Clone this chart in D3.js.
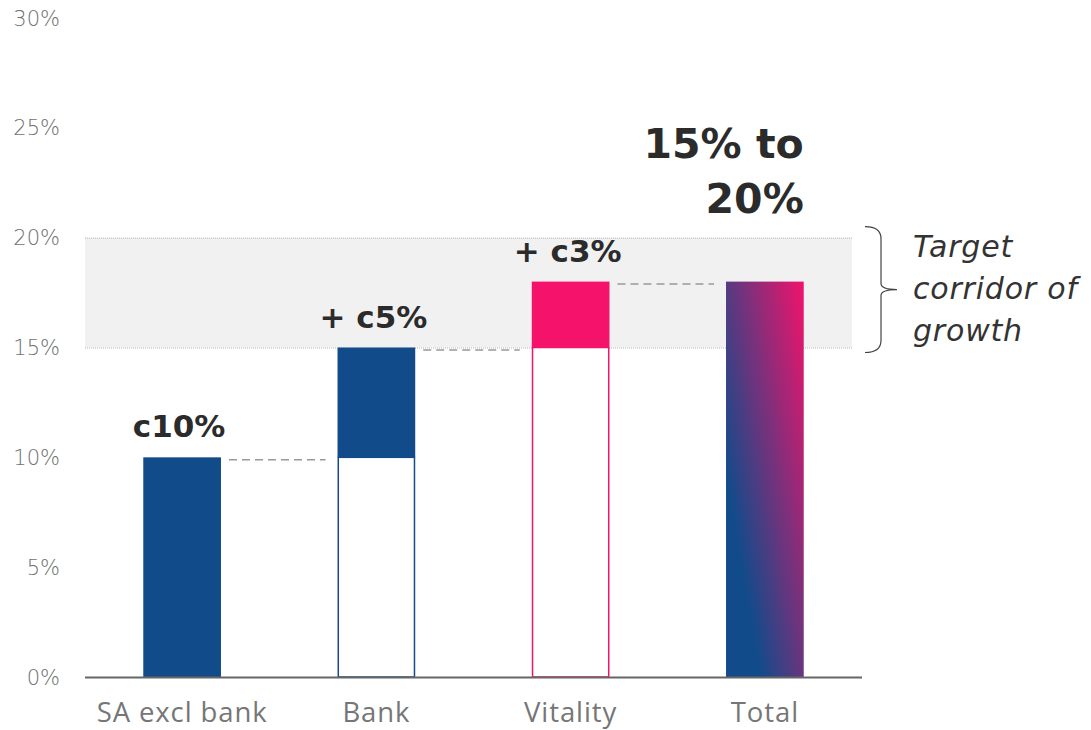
<!DOCTYPE html>
<html>
<head>
<meta charset="utf-8">
<script src="https://cdn.jsdelivr.net/npm/d3@7"></script>
<style>
  html, body { margin: 0; padding: 0; background: #ffffff; }
  svg { display: block; }
</style>
</head>
<body>
<svg id="chart" width="1091" height="730"></svg>
<script>
// Growth build-up by business line
const categories = ["SA excl bank", "Bank", "Vitality", "Total"];
const barStarts  = [0, 10, 15, 0];     // where the filled contribution begins
const barEnds    = [10, 15, 18, 18];   // where the filled contribution ends
const barLabels  = ["c10%", "+ c5%", "+ c3%", ""];
const totalLabelLines = ["15% to", "20%"];
const corridor   = [15, 20];
const corridorLines = ["Target", "corridor of", "growth"];
const yTicks     = [0, 5, 10, 15, 20, 25, 30];

const BLUE = "#124b8a";
const PINK = "#f5126b";
const barColors = [BLUE, BLUE, PINK, null];

const svg = d3.select("#chart");
const plotLeft = 85, plotRight = 862, plotTop = 18, plotBottom = 677;

const x = d3.scaleBand().domain(categories).range([plotLeft, plotRight])
  .paddingInner(0.6).paddingOuter(0.3);
const y = d3.scaleLinear().domain([0, 30]).range([plotBottom, plotTop]);

// Gradient for the total bar: blue at lower-left to pink at upper-right
const tx = x("Total"), bw = x.bandwidth();
const gx0 = tx + bw * 0.45, gy0 = y(0);
const dir = [0.985, -0.172], len = 112;
const defs = svg.append("defs");
const grad = defs.append("linearGradient").attr("id", "totalGrad")
  .attr("gradientUnits", "userSpaceOnUse")
  .attr("x1", gx0).attr("y1", gy0)
  .attr("x2", gx0 + dir[0] * len).attr("y2", gy0 + dir[1] * len);
grad.append("stop").attr("offset", 0).attr("stop-color", BLUE);
grad.append("stop").attr("offset", 1).attr("stop-color", PINK);

// Target corridor band
svg.append("rect")
  .attr("x", plotLeft).attr("width", 852 - plotLeft)
  .attr("y", y(corridor[1])).attr("height", y(corridor[0]) - y(corridor[1]))
  .attr("fill", "#f1f1f1");
svg.selectAll("line.corr").data(corridor).join("line")
  .attr("class", "corr")
  .attr("x1", plotLeft).attr("x2", 852)
  .attr("y1", d => y(d) + 0.5).attr("y2", d => y(d) + 0.5)
  .attr("stroke", "#b5b5b5").attr("stroke-width", 1)
  .attr("stroke-dasharray", "1,1");

// Y tick labels
svg.selectAll("text.ytick").data(yTicks).join("text")
  .attr("class", "ytick")
  .attr("x", 60).attr("y", d => y(d))
  .attr("dy", "0.36em")
  .attr("text-anchor", "end")
  .attr("font-family", "'DejaVu Sans', sans-serif")
  .attr("font-weight", 200)
  .attr("font-size", 21)
  .attr("fill", "#707070")
  .text(d => d + "%");

// Hollow bases for the stacked contributions
svg.selectAll("rect.base").data(categories.map((c, i) => ({c, i})).filter(d => barStarts[d.i] > 0 && barColors[d.i]))
  .join("rect").attr("class", "base")
  .attr("x", d => x(d.c) + 0.75).attr("width", bw - 1.5)
  .attr("y", d => y(barStarts[d.i])).attr("height", d => y(0) - y(barStarts[d.i]))
  .attr("fill", "#ffffff")
  .attr("stroke", d => barColors[d.i]).attr("stroke-width", 1.5);

// Filled contributions
svg.selectAll("rect.bar").data(categories).join("rect")
  .attr("class", "bar")
  .attr("x", d => x(d)).attr("width", bw)
  .attr("y", (d, i) => y(barEnds[i]))
  .attr("height", (d, i) => y(barStarts[i]) - y(barEnds[i]))
  .attr("fill", (d, i) => barColors[i] || "url(#totalGrad)");

// Dashed connectors between consecutive bars
svg.selectAll("line.conn").data(categories.slice(0, -1)).join("line")
  .attr("class", "conn")
  .attr("x1", d => x(d) + bw + 8)
  .attr("x2", (d, i) => x(categories[i + 1]) - 12)
  .attr("y1", (d, i) => y(barEnds[i]) + 2.5)
  .attr("y2", (d, i) => y(barEnds[i]) + 2.5)
  .attr("stroke", "#999").attr("stroke-width", 1.5)
  .attr("stroke-dasharray", "8,5");

// Bar value labels
svg.selectAll("text.blabel").data(categories).join("text")
  .attr("class", "blabel")
  .attr("x", d => x(d) + bw / 2 - 3)
  .attr("y", (d, i) => y(barEnds[i]) - 20)
  .attr("text-anchor", "middle")
  .attr("font-family", "'DejaVu Sans', sans-serif")
  .attr("font-weight", 700)
  .attr("font-size", 31)
  .attr("fill", "#2b2b2b")
  .text((d, i) => barLabels[i]);

// Total label
svg.append("text")
  .attr("x", tx + bw).attr("y", y(barEnds[3]) - 124)
  .attr("text-anchor", "end")
  .attr("font-family", "'DejaVu Sans', sans-serif")
  .attr("font-weight", 700)
  .attr("font-size", 41)
  .attr("fill", "#2b2b2b")
  .selectAll("tspan").data(totalLabelLines).join("tspan")
  .attr("x", tx + bw)
  .attr("dy", (d, i) => i === 0 ? 0 : 55)
  .text(d => d);

// X axis line
svg.append("line")
  .attr("x1", plotLeft).attr("x2", plotRight)
  .attr("y1", y(0) + 0.5).attr("y2", y(0) + 0.5)
  .attr("stroke", "#666").attr("stroke-width", 2);

// Category labels
svg.selectAll("text.cat").data(categories).join("text")
  .attr("class", "cat")
  .attr("x", d => x(d) + bw / 2)
  .attr("y", 722)
  .attr("text-anchor", "middle")
  .attr("font-family", "'Open Sans', sans-serif")
  .attr("font-size", 27.5)
  .attr("letter-spacing", 0.9)
  .attr("fill", "#767676")
  .text(d => d);

// Brace marking the target corridor
const bt = y(corridor[1]) - 11, bb = y(corridor[0]) + 5, bm = (bt + bb) / 2;
const bx0 = 865, bx1 = 881, bx2 = 897;
const brace = `M${bx0},${bt} Q${bx1},${bt} ${bx1},${bt + 12}
  L${bx1},${bm - 6} Q${bx1},${bm} ${bx2},${bm}
  Q${bx1},${bm} ${bx1},${bm + 6}
  L${bx1},${bb - 12} Q${bx1},${bb} ${bx0},${bb}`;
svg.append("path").attr("d", brace)
  .attr("fill", "none").attr("stroke", "#444").attr("stroke-width", 1.2);

svg.append("text")
  .attr("x", 913).attr("y", bm - 33)
  .attr("font-family", "'DejaVu Sans', sans-serif")
  .attr("font-style", "italic")
  .attr("font-weight", 200)
  .attr("font-size", 30)
  .attr("letter-spacing", 0.8)
  .attr("fill", "#333")
  .selectAll("tspan").data(corridorLines).join("tspan")
  .attr("x", 913)
  .attr("dy", (d, i) => i === 0 ? 0 : 42)
  .text(d => d);
</script>
</body>
</html>
